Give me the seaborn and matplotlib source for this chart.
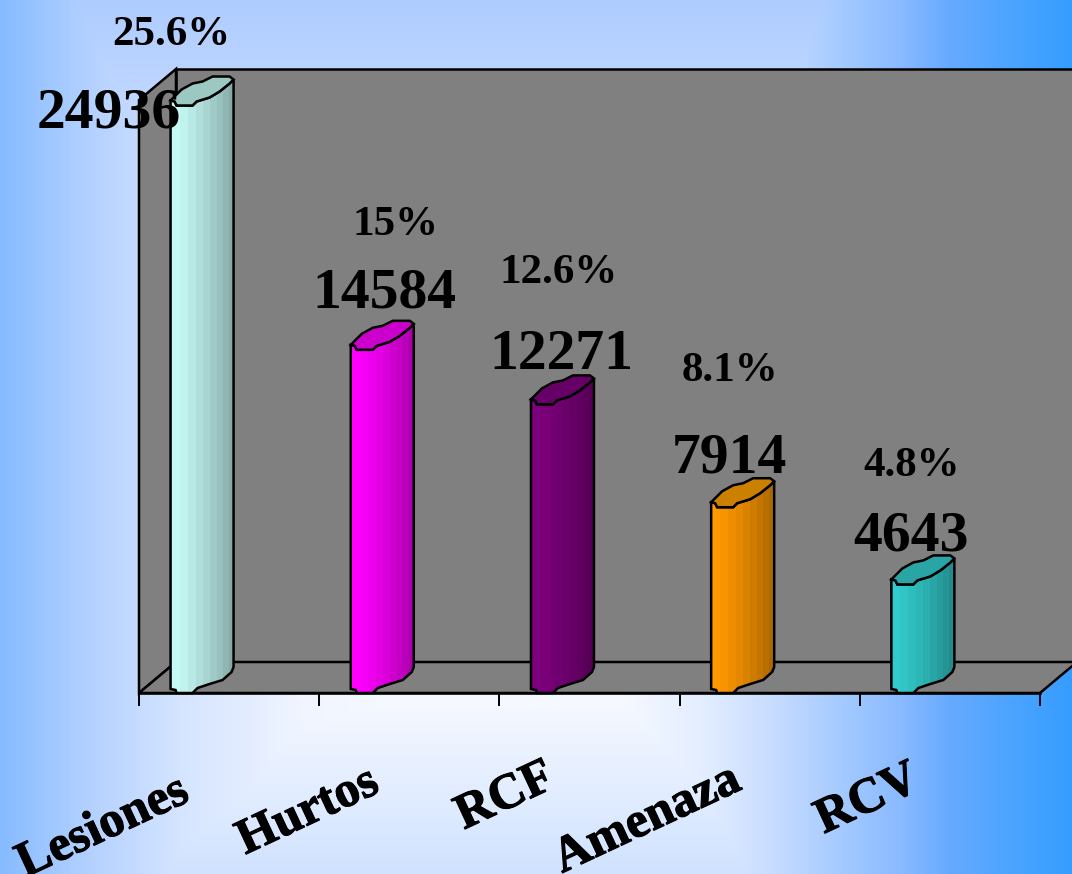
import numpy as np
import pandas as pd
import seaborn as sns
import matplotlib.pyplot as plt
import matplotlib.patheffects as pe
from matplotlib.colors import to_rgb
from matplotlib.patches import Polygon

categories = ['Lesiones', 'Hurtos', 'RCF', 'Amenaza', 'RCV']
counts = [24936, 14584, 12271, 7914, 4643]
percents = ['25.6%', '15%', '12.6%', '8.1%', '4.8%']

bar_colors = ['#c6faf6', '#ff00ff', '#7d007d', '#ff9900', '#33cccc']
lid_colors = ['#9cc8c2', '#cc00cc', '#660066', '#cc8000', '#2aa5a5']

# label offsets from the bar, in pixels
count_offsets = [(-120, -9), (-25, 55), (-28, 48), (-40, 48), (-39, 47)]
percent_offsets = [(-58, 70), (-14, 124), (-31, 130), (-40, 135), (-38, 117)]
label_offsets = [(-126, -135), (-101, -119), (-84, -104), (-122, -127), (-82, -107)]

W, H = 1072, 874
LEFT, RIGHT, BASE, TOP = 139, 1040, 693, 100
DEPTH_X, DEPTH_Y = 37, 31
YMAX = (BASE - TOP) / 0.0236
EDGE = 1.8

sns.set_style('white')
plt.rcParams['font.family'] = ['Liberation Serif', 'DejaVu Serif']
plt.rcParams['font.weight'] = 'bold'

fig = plt.figure(figsize=(W / 100, H / 100), dpi=100)

# background gradient
bg = fig.add_axes([0, 0, 1, 1], zorder=0)
xs = np.arange(W)
ys = np.arange(H)
stops_x = [0, 50, 100, 180, 250, 300, 400, 620, 700, 772, 850, 900, 950, 1000, 1072]
stops_c = np.array([
    [0x85, 0xbb, 0xff], [0xa0, 0xc8, 0xff], [0xb8, 0xd3, 0xff], [0xd5, 0xe5, 0xff],
    [0xe4, 0xed, 0xff], [0xf0, 0xf5, 0xff], [0xf6, 0xf9, 0xff], [0xf6, 0xf9, 0xff],
    [0xe4, 0xee, 0xff], [0xc8, 0xdc, 0xff], [0xa0, 0xc8, 0xff], [0x8a, 0xba, 0xff],
    [0x66, 0xaa, 0xff], [0x50, 0xa5, 0xff], [0x35, 0x9d, 0xff]]) / 255
stops_y = [0, 100, 700, 874]
stops_v = np.array([[0xae, 0xcc, 0xff], [0xc0, 0xd8, 0xff], [0xf6, 0xf9, 0xff], [0xd0, 0xe2, 0xff]]) / 255
hor = np.stack([np.interp(xs, stops_x, stops_c[:, k]) for k in range(3)], axis=1)
ver = np.stack([np.interp(ys, stops_y, stops_v[:, k]) for k in range(3)], axis=1)
bg.imshow(np.minimum(hor[None, :, :], ver[:, None, :]), aspect='auto')
bg.axis('off')

ax = fig.add_axes([LEFT / W, 1 - BASE / H, (RIGHT - LEFT) / W, (BASE - TOP) / H], zorder=1)
ax.patch.set_alpha(0)

df = pd.DataFrame({'categoria': categories, 'casos': counts})
sns.barplot(data=df, x='categoria', y='casos', hue='categoria', palette=bar_colors,
            legend=False, width=0.35, ax=ax, zorder=4)
ax.set_xlim(-0.5, 4.5)
ax.set_ylim(0, YMAX)
ax.set_xlabel('')
ax.set_ylabel('')
ax.set_yticks([])

sx = (RIGHT - LEFT) / 5
sy = 0.0236


def px(x0, y0, pts):
    # pixel offsets to data coordinates
    return [(x0 + dx / sx, y0 + dy / sy) for dx, dy in pts]


# walls and floor, from the axes limits
dx, dy = DEPTH_X, DEPTH_Y
wall_style = dict(facecolor='#808080', edgecolor='black', linewidth=EDGE, clip_on=False)
ax.add_patch(Polygon(px(-0.5, 0, [(dx, dy), (dx + 940, dy), (dx + 940, dy + BASE - TOP), (dx, dy + BASE - TOP)]),
                     zorder=1, **wall_style))
ax.add_patch(Polygon(px(-0.5, 0, [(0, 0), (dx, dy), (dx, dy + BASE - TOP), (0, BASE - TOP)]),
                     zorder=1, **wall_style))
ax.add_patch(Polygon(px(-0.5, 0, [(0, 0), (RIGHT - LEFT, 0), (RIGHT - LEFT + dx, dy), (dx, dy)]),
                     zorder=2, **wall_style))

# cylinder outline in pixels, relative to the bar's left edge
bottom_edge = [(0, 4), (5, 3), (6, 0), (22, 0), (27, 5), (39, 9), (52, 13), (61, 21), (63, 26)]
top_edge = [(63, 21), (59, 17), (49, 9), (39, 3), (26, -1), (22, -5), (6, -5), (4, -1), (0, 0)]
lid_back = [(11, 11), (22, 17), (32, 19), (42, 24), (59, 24), (63, 21)]
strips = [0, 9, 17, 25, 32, 39, 46, 52, 58]

for i, patch in enumerate(ax.patches[:len(counts)]):
    patch.set_x(patch.get_x() - 27 / sx)
    x0 = patch.get_x()
    h = patch.get_height()
    patch.set_linewidth(0)

    top_ref = h + 4 / sy
    outline = px(x0, 0, bottom_edge) + px(x0, top_ref, top_edge)

    # shading strips get darker to the right
    clip = Polygon(outline, transform=ax.transData)
    patch.set_height(h + 40 / sy)
    patch.set_clip_path(clip)
    base = np.array(to_rgb(bar_colors[i]))
    for k, s in enumerate(strips):
        end = strips[k + 1] if k + 1 < len(strips) else 63
        shade = base * (1 - 0.32 * (k / (len(strips) - 1)) ** 1.1)
        r = ax.fill_between([x0 + s / sx, x0 + end / sx], 0, h + 40 / sy, color=shade, linewidth=0,
                            zorder=5, clip_on=True)
        r.set_clip_path(clip)

    ax.add_patch(Polygon(outline, facecolor='none', edgecolor='black', linewidth=EDGE, zorder=6, clip_on=False))
    ax.add_patch(Polygon(px(x0, top_ref, [(0, 0)] + lid_back + top_edge[1:]),
                         facecolor=lid_colors[i], edgecolor='black', linewidth=EDGE,
                         zorder=7, clip_on=False))

    ax.annotate(f'{counts[i]}', (i, counts[i]), xytext=count_offsets[i], textcoords='offset pixels',
                ha='center', va='center', fontsize=41.5, fontweight='bold', color='black',
                annotation_clip=False, zorder=9)
    ax.annotate(percents[i], (i, counts[i]), xytext=percent_offsets[i], textcoords='offset pixels',
                ha='center', va='center', fontsize=31, fontweight='bold', color='black',
                annotation_clip=False, zorder=9)
    t = ax.annotate(categories[i], (i, 0), xytext=label_offsets[i], textcoords='offset pixels',
                    ha='center', va='center', rotation=25, fontsize=36, fontweight='bold', color='black',
                    annotation_clip=False, zorder=9)
    t.set_path_effects([pe.withStroke(linewidth=0.8, foreground='black')])

# ticks sit between the categories
ax.set_xticks(np.arange(-0.5, 5, 1))
ax.set_xticklabels([])
ax.tick_params(axis='x', bottom=True, length=9.5, width=1.4, color='black')
for side in ['top', 'right', 'left']:
    ax.spines[side].set_visible(False)
ax.spines['bottom'].set_linewidth(EDGE)
ax.spines['bottom'].set_color('black')
ax.spines['bottom'].set_zorder(3)

fig.savefig('out.png', dpi=100)
